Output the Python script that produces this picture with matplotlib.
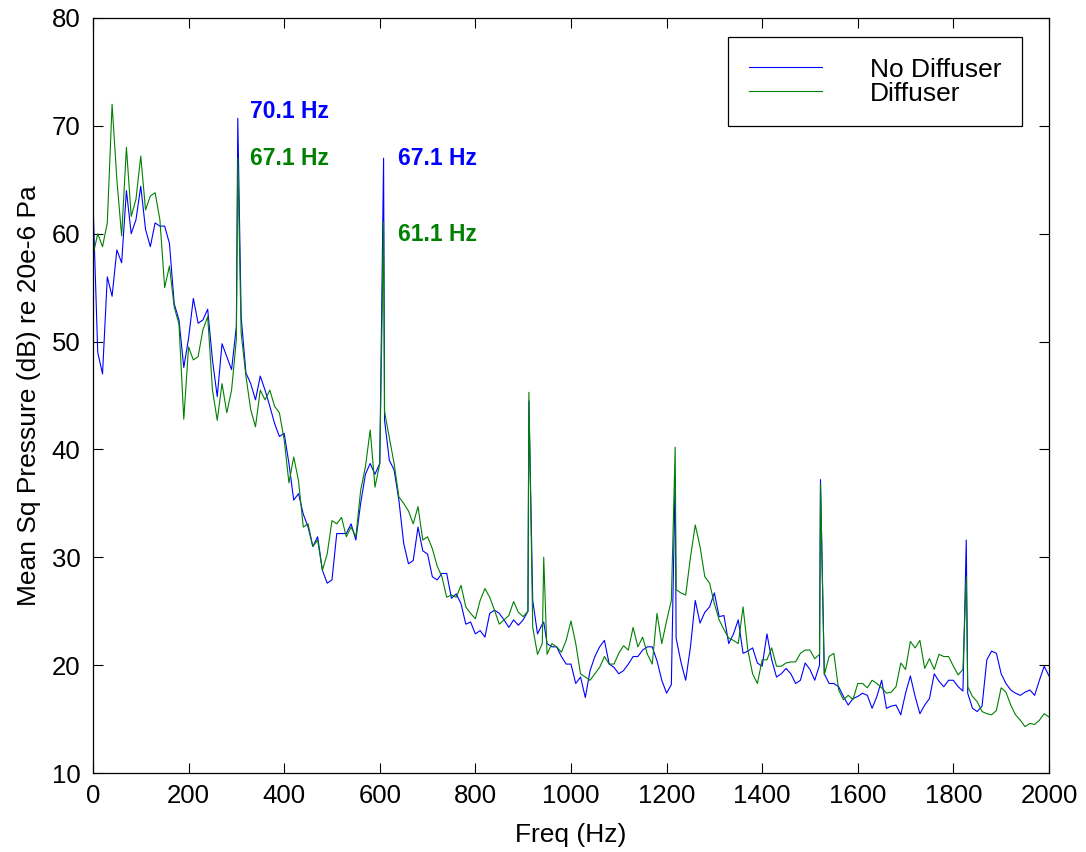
import matplotlib
matplotlib.use('Agg')
import matplotlib.pyplot as plt
import numpy as np

# 10 Hz grid (dB)
freq = np.arange(0, 2001, 10)

no_diffuser = [
    63, 49, 47, 56, 54.2, 58.5, 57.3, 64, 60, 61.3,
    64.4, 60.4, 58.8, 61, 60.7, 60.7, 59.1, 53.5, 52, 47.6,
    50.3, 54, 51.7, 52, 53, 48.3, 44.9, 49.8, 48.6, 47.4,
    51.4, 52.3, 47.1, 46.1, 44.6, 46.8, 45.5, 44, 42.4, 41.2,
    41.5, 38.7, 35.3, 35.9, 34, 32.8, 31, 31.9, 28.8, 27.6,
    27.9, 32.2, 32.2, 32.2, 33.1, 31.6, 35, 37.7, 38.7, 37.7,
    38.7, 42.7, 39, 38.1, 35.3, 31.3, 29.4, 29.7, 32.8, 30.6,
    30.3, 28.2, 27.9, 28.5, 28.5, 26.2, 26.6, 25.7, 23.8, 24,
    22.9, 23.2, 22.6, 24.8, 25.1, 24.8, 24.2, 23.5, 24.2, 23.7,
    24.2, 25, 26, 22.9, 23.8, 22, 21.7, 21.7, 20.8, 20.1,
    20.1, 18.3, 18.9, 17, 19.5, 20.8, 21.7, 22.3, 20.1, 19.8,
    19.2, 19.5, 20.1, 20.8, 20.8, 21.4, 21.7, 21.7, 20.4, 18.6,
    17.4, 18.2, 22.5, 20.3, 18.6, 21.7, 26, 23.9, 24.9, 25.4,
    26.7, 24.5, 24.6, 22, 22.9, 24.2, 21.1, 21.3, 21.6, 20.2,
    19.9, 22.9, 20.5, 18.9, 19.2, 19.7, 19.2, 18.3, 18.6, 20.2,
    19.6, 18.6, 20, 19.2, 18.3, 18.3, 18, 17.1, 16.3, 16.9,
    17.1, 17.4, 17.2, 16, 17.1, 18.6, 16, 16.2, 16.3, 15.4,
    17.4, 19, 17.1, 15.5, 16.3, 16.9, 19.2, 18.5, 18, 18.6,
    18.6, 18, 17.6, 17.4, 16, 15.7, 16.2, 20.5, 21.3, 21.1,
    19.2, 18.3, 17.7, 17.4, 17.2, 17.5, 17.7, 17.2, 18.6, 19.9,
    19,
]

diffuser = [
    58, 60, 58.8, 61, 72, 65, 59.8, 68, 61.6, 63.2,
    67.2, 62.2, 63.5, 63.8, 61.3, 55, 57, 53.2, 51.6, 42.8,
    49.5, 48.3, 48.6, 51.1, 52.3, 45.5, 42.7, 46.1, 43.4, 45.5,
    50.2, 50.8, 46.8, 43.7, 42.1, 45.5, 44.6, 45.5, 44, 43.4,
    40.9, 36.9, 39.3, 37.1, 32.8, 33.1, 31, 31.6, 28.8, 30.3,
    33.4, 33.1, 33.7, 31.9, 32.8, 31.9, 36.2, 38.4, 41.8, 36.5,
    38.7, 43.5, 41.1, 38.7, 35.6, 35, 34.3, 33.1, 34.7, 31.6,
    31.9, 30.8, 29.2, 28.2, 26.3, 26.5, 26.3, 27.4, 25.4, 24.8,
    24.3, 26, 27.1, 26.3, 25.1, 23.8, 24.2, 24.6, 25.9, 24.9,
    24.5, 25, 23.5, 21, 22, 21, 22, 21.7, 21.2, 22.3,
    24.1, 22, 19.2, 18.9, 18.6, 19.2, 19.8, 20.8, 20.1, 20.1,
    21.1, 21.8, 21.4, 23.5, 21.7, 22.6, 21, 20.1, 24.8, 22,
    24.1, 26, 27, 26.7, 26.5, 30, 33, 31, 28.2, 27.6,
    25.7, 24.2, 23.3, 22.5, 22.3, 22, 25.4, 21.4, 19.2, 18.3,
    20.5, 20.5, 21.6, 19.9, 19.9, 20.2, 20.3, 20.3, 21.1, 21.4,
    21.4, 20.6, 21, 19.1, 20.8, 21.1, 17.7, 16.8, 17.2, 16.8,
    18.3, 18.3, 17.9, 18.6, 18.3, 17.9, 17.4, 17.5, 18, 20.2,
    19.6, 22.2, 21.6, 22.3, 19.7, 20.6, 19.6, 21, 20.8, 20.8,
    19.9, 19.1, 19.6, 18, 17.1, 16.6, 15.7, 15.5, 15.4, 15.8,
    17.9, 17.5, 16.3, 15.4, 14.9, 14.3, 14.6, 14.5, 14.9, 15.5,
    15.2,
]

# narrow tonal peaks (harmonics of the fan blade rate)
peak_freq = [303, 608, 912, 943, 1218, 1522, 1827]
no_diffuser_peak = [70.7, 67.0, 44.5, 24.0, 37.5, 37.2, 31.6]
diffuser_peak = [67.0, 61.1, 45.3, 30.0, 40.2, 36.8, 28.2]


def merge(base, peaks):
    f = np.concatenate([freq, peak_freq])
    v = np.concatenate([base, peaks])
    order = np.argsort(f, kind='stable')
    return f[order], v[order]


f_nd, v_nd = merge(no_diffuser, no_diffuser_peak)
f_d, v_d = merge(diffuser, diffuser_peak)

plt.rcParams['font.family'] = ['Liberation Sans', 'DejaVu Sans']

fig = plt.figure(figsize=(10.86, 8.52), dpi=100)
ax = fig.add_axes([0.0856, 0.0927, 0.8803, 0.8862])

ax.plot(f_nd, v_nd, color=(0, 0, 1), lw=0.8, label='No Diffuser')
ax.plot(f_d, v_d, color=(0, 0.5, 0), lw=0.8, label='Diffuser')

ax.set_xlim(0, 2000)
ax.set_ylim(10, 80)
ax.set_xticks(range(0, 2001, 200))
ax.set_yticks(range(10, 81, 10))
ax.tick_params(direction='in', length=7, width=0.8, labelsize=18.5,
               top=True, right=True)
ax.tick_params(axis='x', pad=8)
ax.tick_params(axis='y', pad=9)
for s in ax.spines.values():
    s.set_linewidth(0.9)

ax.set_xlabel('Freq (Hz)', fontsize=19, labelpad=11)
ax.set_ylabel('Mean Sq Pressure (dB) re 20e-6 Pa', fontsize=19, labelpad=7.5)

# peak annotations
ann = dict(fontsize=16.5, fontweight='bold', va='center')
ax.text(329, 71.3, '70.1 Hz', color=(0, 0, 1), **ann)
ax.text(329, 67.0, '67.1 Hz', color=(0, 0.5, 0), **ann)
ax.text(638, 67.0, '67.1 Hz', color=(0, 0, 1), **ann)
ax.text(638, 59.9, '61.1 Hz', color=(0, 0.5, 0), **ann)

leg = ax.legend(loc='upper right', bbox_to_anchor=(0.9718, 0.9748), fontsize=19,
                handlelength=2.8, handletextpad=1.8, labelspacing=0.0,
                borderpad=0.78, borderaxespad=0, fancybox=False, framealpha=1)
leg.get_frame().set_edgecolor('black')
leg.get_frame().set_linewidth(0.9)

fig.savefig('out.png', dpi=100)
plt.close(fig)
